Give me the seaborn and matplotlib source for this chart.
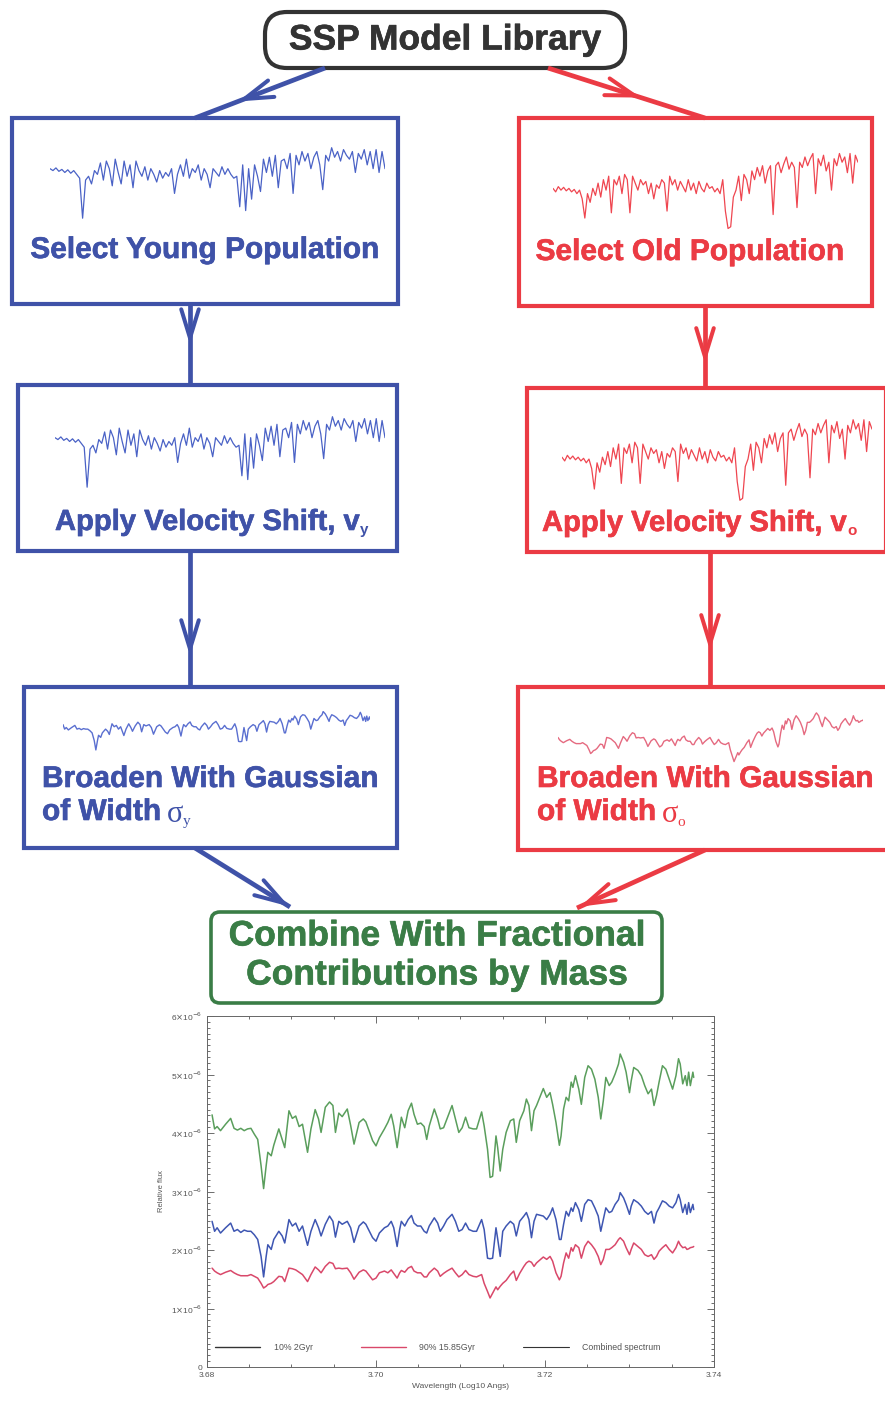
import numpy as np
import pandas as pd
import matplotlib
matplotlib.use("Agg")
import matplotlib.pyplot as plt
import matplotlib.patheffects as pe
import seaborn as sns
from matplotlib.patches import FancyBboxPatch, Rectangle
from matplotlib.lines import Line2D

# ---------------- data ----------------
# bottom panel: wavelength (log10 Angstrom) and relative flux (units of 1e-6)
wave = [3.6806, 3.6809, 3.6812, 3.6816, 3.6822, 3.6828, 3.6832, 3.6836, 3.6840, 3.6844,
        3.6848, 3.6852, 3.6856, 3.6860, 3.6864, 3.6867, 3.6870, 3.6872, 3.6876, 3.6879,
        3.6885, 3.6889, 3.6892, 3.6897, 3.6901, 3.6905, 3.6909, 3.6913, 3.6919, 3.6923,
        3.6928, 3.6932, 3.6935, 3.6940, 3.6945, 3.6949, 3.6952, 3.6956, 3.6960, 3.6966,
        3.6970, 3.6974, 3.6980, 3.6985, 3.6988,
        3.6996, 3.7000, 3.7004, 3.7010, 3.7014, 3.7018, 3.7021, 3.7025, 3.7028, 3.7030,
        3.7034, 3.7038, 3.7042, 3.7045, 3.7049, 3.7053, 3.7057, 3.7060, 3.7063, 3.7069,
        3.7073, 3.7076, 3.7080, 3.7084, 3.7090, 3.7094, 3.7098, 3.7102, 3.7106, 3.7110,
        3.7115, 3.7119, 3.7125, 3.7128, 3.7132, 3.7135, 3.7138, 3.7142, 3.7144, 3.7147,
        3.7150, 3.7154, 3.7159, 3.7163, 3.7166, 3.7170, 3.7175, 3.7178, 3.7181, 3.7184,
        3.7187, 3.7190,
        3.7198, 3.7202, 3.7206, 3.7209, 3.7213, 3.7217, 3.7219, 3.7222, 3.7225, 3.7228,
        3.7231, 3.7233, 3.7236, 3.7240, 3.7243, 3.7247, 3.7251, 3.7255, 3.7259, 3.7263,
        3.7266, 3.7269, 3.7272, 3.7276, 3.7279, 3.7283, 3.7287, 3.7289, 3.7293, 3.7296,
        3.7300, 3.7302, 3.7305, 3.7310, 3.7314, 3.7318, 3.7322, 3.7326, 3.7329, 3.7332,
        3.7335, 3.7339, 3.7343, 3.7347, 3.7351, 3.7355, 3.7358, 3.7360, 3.7363, 3.7366,
        3.7368, 3.7370, 3.7372, 3.7375, 3.7376]

combined_flux = [4.31, 4.07, 4.11, 4.04, 4.15, 4.25, 4.08, 4.05, 4.08, 4.04,
                 4.07, 4.08, 3.98, 3.89, 3.44, 3.05, 3.44, 3.67, 3.61, 3.79,
                 4.07, 3.89, 3.75, 4.38, 4.25, 4.29, 4.11, 4.15, 3.67, 4.07,
                 4.40, 4.24, 4.01, 4.44, 4.53, 4.47, 4.01, 4.34, 4.28, 4.41,
                 4.13, 3.81, 4.18, 4.24, 4.19,
                 3.87, 3.78, 3.92, 4.07, 4.18, 4.32, 4.12, 3.75, 4.07, 4.27,
                 4.09, 4.38, 4.51, 4.32, 4.15, 4.17, 4.11, 3.89, 4.12, 4.41,
                 4.24, 4.07, 4.09, 4.24, 4.47, 4.24, 4.01, 4.09, 4.27, 4.09,
                 4.07, 4.07, 4.36, 4.12, 3.72, 3.24, 3.26, 3.95, 3.75, 3.35,
                 3.72, 4.01, 4.21, 4.24, 3.84, 4.21, 4.38, 4.58, 4.47, 4.04,
                 4.38, 4.47,
                 4.76, 4.61, 4.69, 4.49, 4.18, 3.79, 3.95, 4.41, 4.61, 4.55,
                 4.87, 4.78, 4.98, 4.75, 4.49, 4.95, 5.15, 5.09, 4.92, 4.61,
                 4.24, 4.55, 4.95, 4.81, 4.87, 5.01, 5.18, 5.35, 5.21, 5.04,
                 4.69, 4.89, 5.12, 5.07, 4.98, 4.81, 4.67, 4.75, 4.47, 4.64,
                 4.87, 5.15, 5.09, 4.92, 4.75, 4.98, 5.27, 5.18, 4.84, 4.98,
                 4.81, 5.04, 4.81, 5.04, 4.95]

young_flux = [2.49, 2.32, 2.38, 2.29, 2.38, 2.46, 2.32, 2.35, 2.30, 2.34,
              2.32, 2.32, 2.26, 2.18, 1.89, 1.54, 1.89, 2.09, 2.01, 2.18,
              2.32, 2.24, 2.12, 2.52, 2.41, 2.46, 2.32, 2.41, 2.08, 2.32,
              2.52, 2.38, 2.24, 2.44, 2.58, 2.49, 2.22, 2.49, 2.44, 2.49,
              2.38, 2.13, 2.41, 2.48, 2.44,
              2.21, 2.15, 2.29, 2.38, 2.41, 2.49, 2.38, 2.06, 2.35, 2.49,
              2.41, 2.52, 2.59, 2.46, 2.41, 2.41, 2.32, 2.29, 2.41, 2.55,
              2.46, 2.32, 2.41, 2.52, 2.61, 2.49, 2.32, 2.35, 2.46, 2.35,
              2.32, 2.32, 2.52, 2.35, 1.86, 1.85, 1.86, 2.38, 2.19, 1.89,
              2.32, 2.41, 2.49, 2.44, 2.24, 2.49, 2.58, 2.64, 2.52, 2.21,
              2.49, 2.61,
              2.58, 2.52, 2.61, 2.72, 2.52, 2.18, 2.18, 2.44, 2.66, 2.58,
              2.72, 2.66, 2.81, 2.69, 2.49, 2.78, 2.86, 2.84, 2.72, 2.58,
              2.32, 2.52, 2.72, 2.64, 2.66, 2.78, 2.86, 2.98, 2.89, 2.78,
              2.61, 2.75, 2.86, 2.81, 2.75, 2.66, 2.61, 2.66, 2.46, 2.64,
              2.72, 2.84, 2.81, 2.75, 2.72, 2.81, 2.95, 2.86, 2.64, 2.78,
              2.61, 2.81, 2.64, 2.78, 2.69]

old_flux = [1.69, 1.64, 1.61, 1.58, 1.62, 1.65, 1.61, 1.58, 1.56, 1.56,
            1.56, 1.58, 1.55, 1.52, 1.43, 1.35, 1.38, 1.41, 1.43, 1.46,
            1.55, 1.54, 1.46, 1.69, 1.68, 1.66, 1.62, 1.58, 1.46, 1.58,
            1.71, 1.66, 1.61, 1.72, 1.79, 1.77, 1.68, 1.69, 1.68, 1.69,
            1.61, 1.50, 1.62, 1.66, 1.64,
            1.49, 1.52, 1.61, 1.64, 1.61, 1.66, 1.60, 1.52, 1.61, 1.65,
            1.62, 1.69, 1.72, 1.64, 1.61, 1.61, 1.54, 1.54, 1.61, 1.69,
            1.64, 1.55, 1.60, 1.64, 1.69, 1.61, 1.54, 1.58, 1.65, 1.58,
            1.55, 1.54, 1.58, 1.43, 1.29, 1.18, 1.26, 1.37, 1.32, 1.38,
            1.43, 1.48, 1.58, 1.64, 1.48, 1.60, 1.72, 1.78, 1.81, 1.79,
            1.72, 1.78,
            1.88, 1.84, 1.89, 1.81, 1.61, 1.49, 1.55, 1.78, 1.95, 1.86,
            2.04, 1.98, 2.09, 2.04, 1.86, 2.06, 2.15, 2.09, 2.01, 1.89,
            1.75, 1.84, 2.01, 2.01, 2.04, 2.09, 2.18, 2.21, 2.15, 2.04,
            1.92, 2.01, 2.12, 2.06, 2.01, 1.92, 1.89, 1.92, 1.84, 1.89,
            1.98, 2.04, 2.09, 2.01, 1.95, 2.04, 2.15, 2.09, 2.04, 2.05,
            2.01, 2.02, 2.04, 2.05, 2.06]

# high resolution thumbnails (relative units)
young_raw = [140, 135, 142, 133, 138, 130, 137, 128, 135, 125, 115, 10, 110, 120, 100, 135,
             125, 155, 110, 160, 140, 95, 165, 130, 100, 160, 120, 150, 90, 160, 135, 120,
             145, 110, 140, 125, 105, 135, 115, 130, 120, 140, 75, 125, 150, 120, 165, 115,
             140, 130, 150, 110, 140, 125, 90, 140, 130, 120, 145, 125, 140, 125, 115, 120,
             40, 150, 30, 140, 60, 150, 120, 80, 165, 130, 170, 120, 175, 90, 160, 165,
             140, 180, 75, 175, 150, 185, 160, 180, 140, 170, 185, 150, 85, 175, 160, 195,
             170, 185, 160, 190, 175, 165, 185, 130, 180, 165, 190, 150, 185, 140, 190, 130,
             185, 140]
old_raw = [125, 115, 130, 120, 128, 118, 125, 115, 122, 110, 120, 95, 40, 110, 85, 125,
           105, 140, 100, 150, 120, 160, 55, 150, 135, 160, 110, 165, 150, 55, 160, 140,
           120, 150, 135, 145, 110, 140, 95, 135, 125, 150, 140, 60, 160, 135, 150, 120,
           145, 130, 115, 150, 120, 140, 110, 145, 125, 115, 140, 125, 130, 115, 125, 110,
           150, 60, 10, 15, 100, 120, 160, 90, 165, 150, 110, 175, 150, 185, 160, 190,
           140, 175, 190, 50, 190, 200, 170, 195, 215, 180, 200, 185, 70, 200, 185, 215,
           190, 210, 225, 110, 210, 190, 220, 175, 200, 120, 210, 190, 225, 200, 215, 170,
           225, 140, 220, 200]

legend_labels = ["10% 2Gyr", "90% 15.85Gyr", "Combined spectrum"]
y_ticks = [0, 1, 2, 3, 4, 5, 6]
y_ticklabels = ["0"] + [r"%d$\times$10$^{-6}$" % v for v in y_ticks[1:]]
x_ticks = [3.68, 3.70, 3.72, 3.74]

# ---------------- style ----------------
sns.set_style("white")
plt.rcParams['font.family'] = ['Liberation Sans', 'DejaVu Sans']

BLUE = "#3f52a8"
RED = "#eb3b44"
GREEN = "#3a7d46"
DARK = "#333333"

W, H = 885, 1406
fig = plt.figure(figsize=(W / 100, H / 100), dpi=100)
ov = fig.add_axes([0, 0, 1, 1])
ov.set_xlim(0, W)
ov.set_ylim(H, 0)
ov.axis('off')
renderer = fig.canvas.get_renderer()


def fax(x0, y0, x1, y1):
    a = fig.add_axes([x0 / W, 1 - y1 / H, (x1 - x0) / W, (y1 - y0) / H])
    a.set_facecolor('none')
    return a


def box(x0, y0, x1, y1, color, lw=3.0, rad=0.0):
    if rad > 0:
        p = FancyBboxPatch((x0 + rad, y0 + rad), x1 - x0 - 2 * rad, y1 - y0 - 2 * rad,
                           boxstyle="round,pad=%g" % rad, fc='white', ec=color, lw=lw)
    else:
        p = Rectangle((x0, y0), x1 - x0, y1 - y0, fc='white', ec=color, lw=lw)
    ov.add_patch(p)


def arrow(p0, p1, frac, color, lw=3.4, head=30, ang=17):
    ov.plot([p0[0], p1[0]], [p0[1], p1[1]], color=color, lw=lw, solid_capstyle='butt')
    tx = p0[0] + (p1[0] - p0[0]) * frac
    ty = p0[1] + (p1[1] - p0[1]) * frac
    d = np.arctan2(p1[1] - p0[1], p1[0] - p0[0])
    for s in (1, -1):
        a = d + np.pi + s * np.radians(ang)
        ov.plot([tx, tx + head * np.cos(a)], [ty, ty + head * np.sin(a)],
                color=color, lw=lw * 0.85, solid_capstyle='round')


def heavy(color):
    return [pe.withStroke(linewidth=0.45, foreground=color)]


def right_edge(t):
    bb = t.get_window_extent(renderer)
    return ov.transData.inverted().transform((bb.x1, bb.y0))[0]


# arrows (drawn first, boxes cover line ends)
arrow((325, 68), (195, 118), 0.62, BLUE)
arrow((548, 68), (705, 118), 0.55, RED)
arrow((190, 304), (190, 385), 0.42, BLUE)
arrow((705, 306), (705, 388), 0.62, RED)
arrow((190, 551), (190, 687), 0.72, BLUE)
arrow((710, 552), (710, 687), 0.68, RED)
arrow((195, 848), (290, 907), 0.93, BLUE)
arrow((705, 850), (577, 908), 0.93, RED)

# boxes
box(265, 12, 625, 68, DARK, lw=3.0, rad=22)
box(12, 118, 398, 304, BLUE)
box(519, 118, 872, 306, RED)
box(18, 385, 397, 551, BLUE)
box(527, 388, 886, 552, RED)
box(24, 687, 397, 848, BLUE)
box(518, 687, 888, 850, RED)
box(211, 912, 662, 1003, GREEN, lw=2.6, rad=9)

tkw = dict(fontweight='bold', ha='center', va='center')
ov.text(445, 40, "SSP Model Library", color=DARK, fontsize=25.5,
        path_effects=heavy(DARK), **tkw)
ov.text(205, 250, "Select Young Population", color=BLUE, fontsize=21.5,
        path_effects=heavy(BLUE), **tkw)
ov.text(690, 252, "Select Old Population", color=RED, fontsize=21.5,
        path_effects=heavy(RED), **tkw)

# velocity shift labels: bold text + small subscript
for (x0, y0, col, sub) in [(55, 522, BLUE, "y"), (542, 523, RED, "o")]:
    t = ov.text(x0, y0, "Apply Velocity Shift, v", color=col, fontsize=21, fontweight='bold',
                ha='left', va='center', path_effects=heavy(col))
    ov.text(right_edge(t) + 1, y0 + 8, sub, color=col, fontsize=11, fontweight='bold',
            ha='left', va='center')

lkw = dict(fontweight='bold', ha='left', va='center', fontsize=21.5)
for (x0, col, sub) in [(42, BLUE, "y"), (537, RED, "o")]:
    ov.text(x0, 779, "Broaden With Gaussian", color=col, path_effects=heavy(col), **lkw)
    t = ov.text(x0, 812, "of Width", color=col, path_effects=heavy(col), **lkw)
    xs = right_edge(t) + 5
    ts = ov.text(xs, 814, "\u03c3", color=col, fontsize=22, family='Liberation Serif',
                 ha='left', va='center')
    ov.text(right_edge(ts), 822, sub, color=col, fontsize=11, family='Liberation Serif',
            ha='left', va='center')

ov.text(437, 936, "Combine With Fractional", color=GREEN, fontsize=25.5,
        path_effects=heavy(GREEN), **tkw)
ov.text(437, 975, "Contributions by Mass", color=GREEN, fontsize=25.5,
        path_effects=heavy(GREEN), **tkw)


# thumbnails
def thumb(ext, x, y, ylim, color, lw=0.9):
    a = fax(*ext)
    sns.lineplot(x=x, y=y, ax=a, color=color, lw=lw, sort=False, estimator=None)
    a.set_xlim(min(x), max(x))
    a.set_ylim(*ylim)
    a.axis('off')
    return a


yi = list(range(len(young_raw)))
oi = list(range(len(old_raw)))
thumb((50, 142, 385, 222), yi, young_raw, (0, 210), "#4a62c6")
thumb((55, 411, 385, 491), yi, young_raw, (0, 210), "#4a62c6")
thumb((553, 150, 858, 232), oi, old_raw, (0, 235), "#ef4650")
thumb((562, 416, 872, 504), oi, old_raw, (0, 235), "#ef4650")
thumb((63, 711, 370, 751), wave, young_flux, (1.5, 3.0), "#5a6fd0", lw=1.0)
thumb((558, 711, 863, 763), wave, old_flux, (1.15, 2.25), "#e56a80", lw=1.0)

# bottom spectrum panel
ax = fax(207, 1016, 714, 1367)
ax.set_facecolor('white')
df = pd.DataFrame({"wave": wave, "combined": combined_flux, "young": young_flux, "old": old_flux})
sns.lineplot(data=df, x="wave", y="combined", ax=ax, color="#5a9e5c", lw=1.1, sort=False, estimator=None)
sns.lineplot(data=df, x="wave", y="young", ax=ax, color="#3e56b2", lw=1.1, sort=False, estimator=None)
sns.lineplot(data=df, x="wave", y="old", ax=ax, color="#d9486a", lw=1.1, sort=False, estimator=None)
ax.set_xlim(3.68, 3.74)
ax.set_ylim(0, 6)
ax.set_xticks(x_ticks)
ax.set_xticklabels(["%.2f" % v for v in x_ticks])
ax.set_yticks(y_ticks)
ax.set_yticklabels(y_ticklabels)
ax.set_xticks(np.arange(3.68, 3.7401, 0.005), minor=True)
ax.set_yticks(np.arange(0, 6.01, 0.1), minor=True)
ax.tick_params(which='both', direction='in', top=True, right=True, left=True, bottom=True,
               colors='#555555', labelsize=6, labelcolor='#555555', width=0.6)
ax.tick_params(which='major', length=5)
ax.tick_params(which='minor', length=2.5)
for s in ax.spines.values():
    s.set_color('#666666')
    s.set_linewidth(0.7)
ax.set_xlabel("Wavelength (Log10 Angs)", fontsize=6, color='#555555', labelpad=3)
ax.set_ylabel("Relative flux", fontsize=5.5, color='#555555', labelpad=4)
handles = [Line2D([], [], color='#333333', lw=1.0),
           Line2D([], [], color='#d9486a', lw=1.0),
           Line2D([], [], color='#333333', lw=0.8)]
ax.legend(handles, legend_labels, ncol=3, loc='lower left', bbox_to_anchor=(0.0, 0.02),
          frameon=False, fontsize=6.3, handlelength=5.2, handletextpad=1.5,
          columnspacing=5.5, labelcolor='#555555')

fig.savefig("out.png", dpi=100)
